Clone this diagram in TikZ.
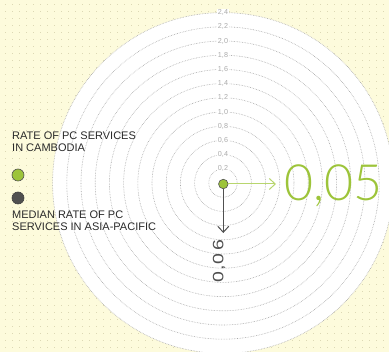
\documentclass[tikz,border=0pt]{standalone}
\usepackage{fontspec}
\setmainfont{Liberation Sans}
\newfontfamily\lightfont{Lato Light}
\usetikzlibrary{arrows.meta}
\definecolor{bgyel}{HTML}{FDFBDC}
\definecolor{dotc}{HTML}{DCD8B4}
\definecolor{ringc}{HTML}{A8A8A8}
\definecolor{labc}{HTML}{ABABAB}
\definecolor{lime}{HTML}{9DC43A}
\definecolor{limel}{HTML}{B8D66E}
\definecolor{darkg}{HTML}{505050}
\definecolor{txt}{HTML}{2A2A2A}
\tikzset{
  ring/.style={ringc, densely dotted, line width=0.6pt},
  ringlab/.style={fill=white, inner sep=0.6pt, text=labc, font=\fontsize{7.2}{8}\selectfont},
  legtext/.style={text=txt, font=\fontsize{11}{13}\selectfont, align=left, anchor=north west, inner sep=0pt},
  bigval/.style={text=lime, font=\lightfont\fontsize{50}{50}\selectfont, inner sep=0pt},
  chev/.style={-{Straight Barb[length=6pt, width=11pt, line width=1pt]}}
}
\begin{document}
\begin{tikzpicture}[x=1pt, y=-1pt]
\useasboundingbox (0,0) rectangle (389,352);
\begin{scope}
\clip (0,0) rectangle (389,352);
\fill[bgyel] (0,0) rectangle (389,352);
\foreach \i in {5,12,...,389} {
  \foreach \j in {5,12,...,352} {
    \fill[dotc] (\i-0.5,\j-0.5) rectangle (\i+0.5,\j+0.5);
  }
}
\coordinate (c) at (223,183);
\fill[white] (c) circle (170.4pt);
\foreach \k in {1,...,12} {
  \draw[ring] (c) circle ({14.2*\k pt});
}
\foreach \k/\v in {1/{0,2}, 2/{0,4}, 3/{0,6}, 4/{0,8}, 5/{1,0}, 6/{1,2}, 7/{1,4}, 8/{1,6}, 9/{1,8}, 10/{2,0}, 11/{2,2}, 12/{2,4}} {
  \node[ringlab] (lab\k) at (223,{183-14.2*\k}) {\v};
}
\end{scope}
% data point
\node[circle, fill=lime, draw=darkg, line width=0.6pt, minimum size=9.5pt, inner sep=0pt] (dot) at (223.3,184) {};
\coordinate (gtip) at (276,184);
\coordinate (dtip) at (223.3,233);
\draw[limel, line width=1pt, chev] (dot.east) -- (gtip);
\draw[darkg, line width=1pt, chev] (dot.south) -- (dtip);
\node[bigval, anchor=west] (v1) at (284,186) {0,05};
\node[text=darkg, font=\fontsize{15}{15}\selectfont, rotate=90, anchor=east, inner sep=0pt] (v2) at (219,239) {\scalebox{1.3}[1]{0\kern0.8pt,\kern0.8pt0\kern2.5pt6}};
% legend
\node[legtext] (l1) at (12,132) {RATE OF PC SERVICES\\[-1.5pt]IN CAMBODIA};
\node[circle, fill=lime, draw=darkg, line width=0.6pt, minimum size=12pt, inner sep=0pt] (lg) at (18,175) {};
\node[circle, fill=darkg, draw=darkg!80!black, line width=0.6pt, minimum size=12pt, inner sep=0pt] (ld) at (18,198) {};
\node[legtext] (l2) at (12,211) {MEDIAN RATE OF PC\\[-1.5pt]SERVICES IN ASIA-PACIFIC};
\end{tikzpicture}
\end{document}
